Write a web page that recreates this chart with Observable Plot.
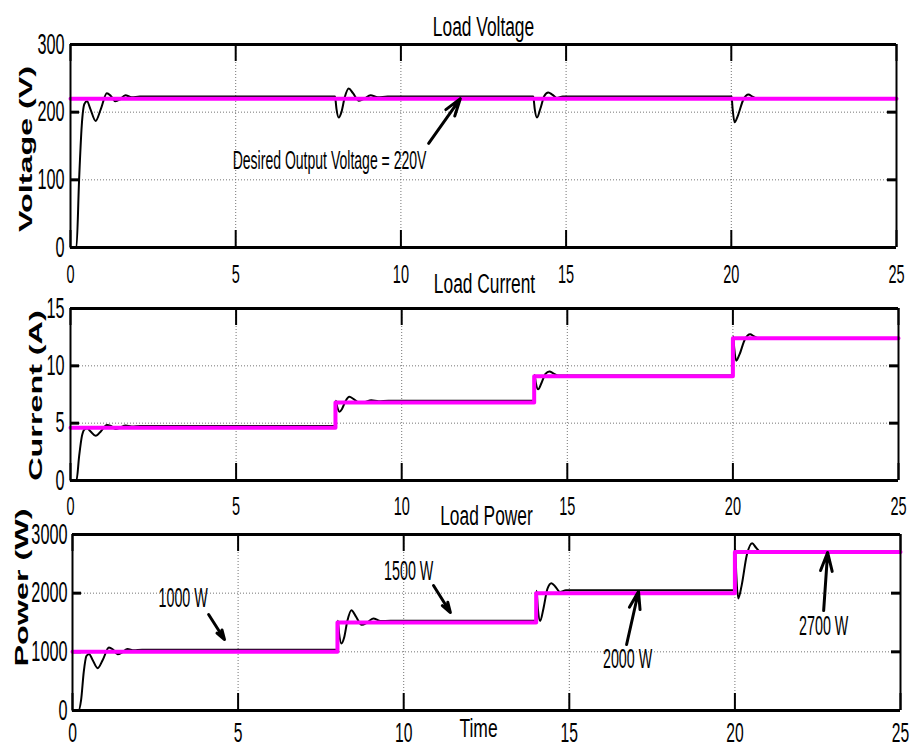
<!DOCTYPE html>
<html>
<head>
<meta charset="utf-8">
<script src="https://cdn.jsdelivr.net/npm/d3@7"></script>
<script src="https://cdn.jsdelivr.net/npm/@observablehq/plot@0.6"></script>
<style>
  html, body { margin: 0; padding: 0; background: #fff; }
  #chart { position: relative; width: 911px; height: 748px; overflow: hidden; }
  #chart svg { position: absolute; left: 0; }
</style>
</head>
<body>
<div id="chart"></div>
<script>
// Axis ticks
const timeTicks = [0, 5, 10, 15, 20, 25];
const voltageTicks = [0, 100, 200, 300];
const currentTicks = [0, 5, 10, 15];
const powerTicks = [0, 1000, 2000, 3000];

// Load switching instants and reference set-points (step after each instant)
const stepTimes = [0, 8, 14, 20, 25];
const voltageRef = [220, 220, 220, 220, 220];
const currentRef = [4.6, 6.8, 9.1, 12.4, 12.4];
const powerRef = [1000, 1500, 2000, 2700, 2700];

// Measured response samples
const respT = [0, 0.18, 0.26, 0.34, 0.42, 0.5, 0.6, 0.76, 0.92, 1.1, 1.22, 1.36, 1.5, 1.66, 1.85, 2.1, 2.5,
  8.0, 8.01, 8.05, 8.12, 8.2, 8.3, 8.42, 8.55, 8.73, 8.9, 9.08, 9.3, 9.6,
  14.0, 14.01, 14.05, 14.12, 14.22, 14.34, 14.46, 14.58, 14.72, 14.9,
  20.0, 20.01, 20.04, 20.1, 20.2, 20.36, 20.52, 20.64, 20.78, 25];
const respV = [0, 0, 100, 180, 212, 216, 205, 187, 205, 228, 224, 216, 219, 225, 222, 223, 223,
  223, 222, 205, 192, 200, 222, 235, 228, 217, 220, 225, 222, 223,
  223, 222, 205, 192, 205, 224, 229, 226, 221, 223,
  223, 222, 205, 185, 195, 218, 226, 223, 220, 220];
const respI = [0, 0, 2.1, 3.8, 4.45, 4.55, 4.3, 3.9, 4.3, 4.85, 4.75, 4.5, 4.62, 4.8, 4.72, 4.75, 4.75,
  4.75, 6.95, 6.45, 6.0, 6.25, 6.9, 7.3, 7.1, 6.75, 6.85, 7.0, 6.92, 6.95,
  6.95, 9.2, 8.5, 7.95, 8.5, 9.3, 9.5, 9.35, 9.15, 9.15,
  9.15, 12.55, 11.55, 10.45, 11.0, 12.3, 12.75, 12.57, 12.4, 12.4];
const respP = [0, 0, 180, 660, 930, 965, 870, 722, 870, 1075, 1040, 960, 990, 1050, 1025, 1035, 1035,
  1035, 1530, 1310, 1142, 1240, 1530, 1710, 1610, 1460, 1500, 1570, 1525, 1530,
  1530, 2040, 1740, 1525, 1740, 2075, 2170, 2110, 2020, 2050,
  2050, 2750, 2340, 1910, 2120, 2650, 2850, 2775, 2700, 2700];

// Annotations (text position and arrow tail -> head, in data units)
const voltageNote = ["Desired Output Voltage = 220V"];
const voltageNoteT = [7.84];
const voltageNoteV = [128];
const voltageArrowT = [10.84, 11.8];
const voltageArrowV = [154, 220];

const powerNotes = ["1000 W", "1500 W", "2000 W", "2700 W"];
const powerNoteT = [3.34, 10.15, 16.76, 22.68];
const powerNoteP = [1917, 2369, 869, 1432];
const powerArrowT1 = [4.11, 10.9, 16.73, 22.68];
const powerArrowP1 = [1636, 2131, 1125, 1704];
const powerArrowT2 = [4.59, 11.41, 17.09, 22.8];
const powerArrowP2 = [1210, 1670, 2028, 2693];

const response = respT.map((t, k) => ({t, v: respV[k], i: respI[k], p: respP[k]}));
const reference = stepTimes.map((t, k) => ({t, v: voltageRef[k], i: currentRef[k], p: powerRef[k]}));

const FONT = "'Liberation Sans', Arial, Helvetica, sans-serif";

// horizontal glyph scaling (in each text's own frame) for the texts of a group
function squeeze(texts, sx) {
  texts.forEach((t) => {
    t.setAttribute("transform", (t.getAttribute("transform") || "") + ` scale(${sx},1)`);
  });
}
function squeezeAxis(svg, label, sx) {
  squeeze(svg.querySelectorAll(`g[aria-label="${label}"] text`), sx);
}
function squeezeByContent(svg, widths) {
  const texts = [...svg.querySelectorAll(`g[aria-label="text"] text`)];
  for (const [content, sx] of widths) squeeze(texts.filter((t) => t.textContent === content), sx);
}

function panel(o) {
  const plotH = o.height - o.mt - o.mb;
  const plotW = 911 - o.ml - o.mr;
  const yMax = o.yTicks[o.yTicks.length - 1];
  const inner = (a) => a.slice(1, -1);
  const marks = [
    Plot.gridX(inner(timeTicks), {stroke: "#666", strokeOpacity: 0.9, strokeWidth: 1, strokeDasharray: "1,2"}),
    Plot.gridY(inner(o.yTicks), {stroke: "#666", strokeOpacity: 0.9, strokeWidth: 1, strokeDasharray: "1,2"}),
    Plot.ruleX(timeTicks, {stroke: "black", strokeWidth: 2, insetTop: plotH - 17}),
    Plot.ruleX(timeTicks, {stroke: "black", strokeWidth: 2, insetBottom: plotH - 17}),
    Plot.ruleY(o.yTicks, {stroke: "black", strokeWidth: 3, insetRight: plotW - 9}),
    Plot.ruleY(o.yTicks, {stroke: "black", strokeWidth: 3, insetLeft: plotW - 9}),
    Plot.line(response, {x: "t", y: o.key, stroke: "black", strokeWidth: 2, curve: "monotone-x"}),
    Plot.line(reference, {x: "t", y: o.key, stroke: "#ff00ff", strokeWidth: 4, curve: "step-after"}),
    Plot.ruleY([0, yMax], {stroke: "black", strokeWidth: 3}),
    Plot.ruleX([0, 25], {stroke: "black", strokeWidth: 2}),
    Plot.axisX(timeTicks, {anchor: "bottom", tickSize: 0, tickPadding: o.xPad, fontSize: o.xFont, tickFormat: "d", label: null}),
    Plot.axisY(o.yTicks, {anchor: "left", tickSize: 0, tickPadding: o.yPad, fontSize: 29, tickFormat: "d", label: null}),
    Plot.text([o.title], {frameAnchor: "top", lineAnchor: "middle", textAnchor: "middle", dy: o.titleDy, fontSize: 28, fill: "black"}),
    Plot.text([o.ylabel], {frameAnchor: "left", rotate: -90, lineAnchor: "middle", textAnchor: "middle",
      dx: o.ylabelDx, dy: o.ylabelDy, fontSize: 19, fontWeight: "bold", fill: "black"}),
    ...(o.extra || [])
  ];
  const svg = Plot.plot({
    width: 911,
    height: o.height,
    marginTop: o.mt, marginBottom: o.mb, marginLeft: o.ml, marginRight: o.mr,
    x: {domain: [0, 25]},
    y: {domain: [0, yMax]},
    style: {background: "none", overflow: "visible", fontFamily: FONT, color: "black"},
    marks
  });
  svg.style.top = o.top + "px";
  squeezeAxis(svg, "x-axis tick label", o.xSx);
  squeezeAxis(svg, "y-axis tick label", 0.56);
  squeezeByContent(svg, [[o.title, 0.62], [o.ylabel, 1.7], ...(o.notes || [])]);
  return svg;
}

const chart = document.getElementById("chart");

chart.append(panel({
  top: 0, height: 290, mt: 44, mb: 43, ml: 70, mr: 15,
  key: "v", yTicks: voltageTicks, title: "Load Voltage", titleDy: -17,
  ylabel: "Voltage (V)", ylabelDx: -45, ylabelDy: 3,
  xFont: 25, xPad: 18, xSx: 0.58, yPad: 6,
  notes: voltageNote.map((s) => [s, 0.54]),
  extra: [
    Plot.arrow(voltageNote, {x1: voltageArrowT[0], y1: voltageArrowV[0], x2: voltageArrowT[1], y2: voltageArrowV[1],
      stroke: "black", strokeWidth: 3, headLength: 13, headAngle: 35}),
    Plot.text(voltageNote, {x: () => voltageNoteT[0], y: () => voltageNoteV[0], lineAnchor: "middle", fontSize: 26, fill: "black"})
  ]
}));

chart.append(panel({
  top: 260, height: 250, mt: 48, mb: 30, ml: 70, mr: 13,
  key: "i", yTicks: currentTicks, title: "Load Current", titleDy: -24,
  ylabel: "Current (A)", ylabelDx: -35, ylabelDy: 1,
  xFont: 25, xPad: 17, xSx: 0.58, yPad: 6
}));

const powerNoteRows = powerNotes.map((label, k) => ({
  label, t: powerNoteT[k], p: powerNoteP[k],
  t1: powerArrowT1[k], p1: powerArrowP1[k], t2: powerArrowT2[k], p2: powerArrowP2[k]
}));

chart.append(panel({
  top: 490, height: 258, mt: 44, mb: 38, ml: 72, mr: 11,
  key: "p", yTicks: powerTicks, title: "Load Power", titleDy: -18,
  ylabel: "Power (W)", ylabelDx: -51, ylabelDy: -35,
  xFont: 27, xPad: 12, xSx: 0.58, yPad: 5,
  notes: [...powerNotes.map((s) => [s, 0.53]), ["Time", 0.7]],
  extra: [
    Plot.arrow(powerNoteRows, {x1: "t1", y1: "p1", x2: "t2", y2: "p2", stroke: "black", strokeWidth: 3, headLength: 13, headAngle: 35}),
    Plot.text(powerNoteRows, {x: "t", y: "p", text: "label", lineAnchor: "middle", fontSize: 27, fill: "black"}),
    Plot.text(["Time"], {frameAnchor: "bottom", lineAnchor: "middle", dx: -8, dy: 18, fontSize: 25, fill: "black"})
  ]
}));
</script>
</body>
</html>
